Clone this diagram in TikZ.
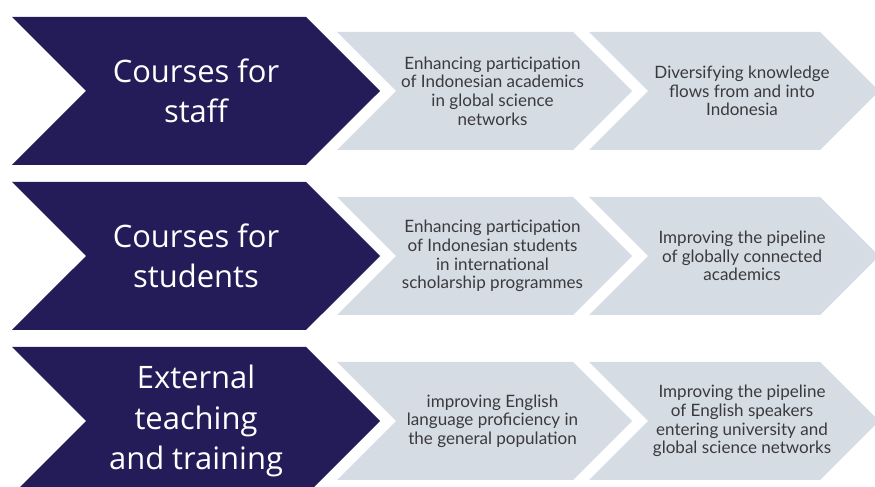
\documentclass[tikz,border=0pt]{standalone}
\usepackage{fontspec}
\setmainfont{Lato}
\newfontfamily\headfont{Open Sans}
\usetikzlibrary{positioning,shapes.symbols}
\definecolor{navy}{RGB}{36,28,89}
\definecolor{mist}{RGB}{214,220,228}
\definecolor{slate}{RGB}{58,58,62}
\tikzset{
  lead/.style={signal, signal from=west, signal to=east, signal pointer angle=90, fill=navy, minimum width=7.36cm, minimum height=2.96cm, inner sep=0pt, text=white, align=center, font=\headfont\fontsize{17.6}{22.8}\selectfont},
  outcome/.style={signal, signal from=west, signal to=east, signal pointer angle=90, fill=mist, minimum width=#1, minimum height=2.36cm, inner sep=0pt},
  outcome/.default={5.9cm},
  desc/.style={text=slate, align=center, inner sep=0pt, font=\fontsize{9.7}{10.6}\selectfont}
}

\begin{document}
\begin{tikzpicture}
  \useasboundingbox (0,0) rectangle (17.5,-9.74);
  % staff
  \node[lead] (staff) at (3.92,-1.82) {Courses for\\staff};
  \node[outcome] (staffA) at (9.69,-1.82) {};
  \node[outcome={5.8cm}] (staffB) at (14.68,-1.82) {};
  \node[desc] (staffAtxt) at ([xshift=0.16cm]staffA.center) {Enhancing participation\\of Indonesian academics\\in global science\\networks};
  \node[desc] (staffBtxt) at ([xshift=0.16cm]staffB.center) {Diversifying knowledge\\flows from and into\\Indonesia};
  % students
  \node[lead] (stud) at (3.92,-5.12) {Courses for\\students};
  \node[outcome] (studA) at (9.69,-5.12) {};
  \node[outcome={5.8cm}] (studB) at (14.68,-5.12) {};
  \node[desc] (studAtxt) at ([xshift=0.16cm]studA.center) {Enhancing participation\\of Indonesian students\\in international\\scholarship programmes};
  \node[desc] (studBtxt) at ([xshift=0.16cm]studB.center) {Improving the pipeline\\of globally connected\\academics};
  % external
  \node[lead] (ext) at (3.92,-8.42) {External\\teaching\\and training};
  \node[outcome] (extA) at (9.69,-8.42) {};
  \node[outcome={5.8cm}] (extB) at (14.68,-8.42) {};
  \node[desc] (extAtxt) at ([xshift=0.16cm]extA.center) {improving English\\language proficiency in\\the general population};
  \node[desc] (extBtxt) at ([xshift=0.16cm]extB.center) {Improving the pipeline\\of English speakers\\entering university and\\global science networks};
\end{tikzpicture}
\end{document}
